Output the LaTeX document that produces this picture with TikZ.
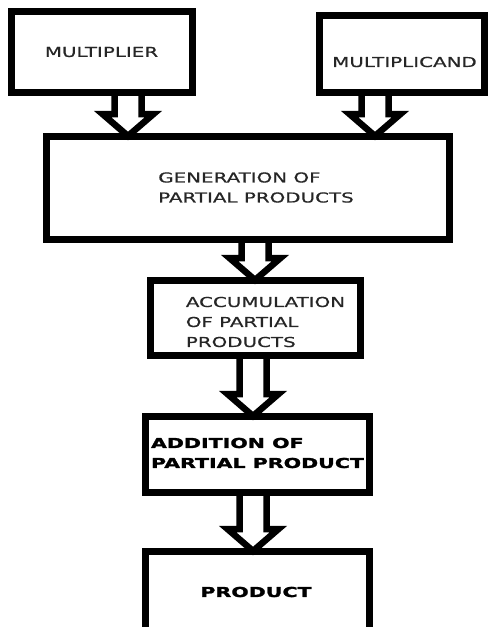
\documentclass[tikz,border=0pt]{standalone}
\usepackage{fontspec}
\setmainfont[FakeStretch=1.45, FakeBold=0.6]{DejaVu Sans}
\newfontfamily\heavyfont[FakeStretch=1.5, FakeBold=1.6, UprightFont={* Bold}]{DejaVu Sans}
\usetikzlibrary{calc}

\tikzset{
  stage/.style={draw, line width=7pt, outer sep=0pt, inner sep=0pt},
  lbl/.style={text=black!85, font=\fontsize{13.7}{20}\selectfont, align=left, inner sep=0pt},
  boldlbl/.style={lbl, text=black, font=\heavyfont\fontsize{13.7}{20}\selectfont},
  hollow/.style={draw, line width=6.5pt, line join=miter}
}

% hollow block arrow: from a coordinate down to the top of a node
\newcommand{\hollowarrow}[2]{%
  \draw[hollow] let \p1=(#1), \p2=(#2.north) in
    ({\x1-13.5pt},\y1) -- ({\x1-13.5pt},{\y2+22pt}) -- ({\x1-25.5pt},{\y2+22pt})
    -- (\x1,\y2) -- ({\x1+25.5pt},{\y2+22pt}) -- ({\x1+13.5pt},{\y2+22pt})
    -- ({\x1+13.5pt},\y1);
}

\begin{document}
\begin{tikzpicture}[x=1pt, y=-1pt]
    \useasboundingbox (0,0) rectangle (489,627);

    % Boxes
    \node[stage, minimum width=181pt, minimum height=81pt] (mult) at (101.5,51.5) {};
    \node[stage, minimum width=165pt, minimum height=77pt] (mcand) at (401.5,53.5) {};
    \node[stage, minimum width=403pt, minimum height=103pt] (gen) at (247.5,187.5) {};
    \node[stage, minimum width=210pt, minimum height=75pt] (acc) at (255,317.5) {};
    \node[stage, minimum width=224pt, minimum height=76pt] (add) at (257,454) {};
    \node[stage, minimum width=224pt, minimum height=94pt] (prod) at (257,598) {};

    % Texts
    \node[lbl] (multtxt) at (101.5,52) {MULTIPLIER};
    \node[lbl] (mcandtxt) at (404.5,62) {MULTIPLICAND};
    \node[lbl] (gentxt) at (256,187.5) {GENERATION OF\\PARTIAL PRODUCTS};
    \node[lbl] (acctxt) at (265.5,322) {ACCUMULATION\\OF PARTIAL\\PRODUCTS};
    \node[boldlbl] (addtxt) at (257.5,453) {ADDITION OF\\PARTIAL PRODUCT};
    \node[boldlbl] (prodtxt) at (256,592) {PRODUCT};

    % Arrows
    \coordinate (a1) at ([xshift=26.5pt]mult.south);
    \coordinate (a2) at ([xshift=-26.5pt]mcand.south);
    \coordinate (a3) at ([xshift=7.5pt]gen.south);
    \coordinate (a4) at ([xshift=-2pt]acc.south);
    \coordinate (a5) at ([xshift=-4pt]add.south);
    \hollowarrow{a1}{gen}
    \hollowarrow{a2}{gen}
    \hollowarrow{a3}{acc}
    \hollowarrow{a4}{add}
    \hollowarrow{a5}{prod}
\end{tikzpicture}
\end{document}
